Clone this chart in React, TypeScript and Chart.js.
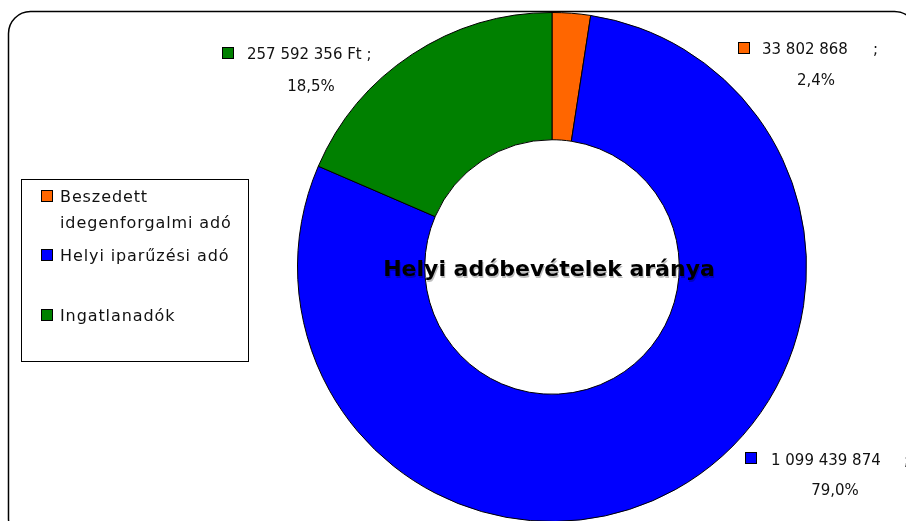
import React, { useEffect, useRef } from "react";
import { Chart, registerables } from "chart.js";

Chart.register(...registerables);

const categories = ["Beszedett idegenforgalmi adó", "Helyi iparűzési adó", "Ingatlanadók"];
const legendLines = [["Beszedett", "idegenforgalmi adó"], ["Helyi iparűzési adó"], ["Ingatlanadók"]];
const values = [33802868, 1099439874, 257592356];
const valueSuffixes = ["", "", " Ft"];
const colors = ["#FF6600", "#0000FF", "#008000"];
const title = "Helyi adóbevételek aránya";

const total = values.reduce((a, b) => a + b, 0);
const fmt = (n: number) => String(n).replace(/\B(?=(\d{3})+(?!\d))/g, " ");
const pct = (n: number) => ((n / total) * 100).toFixed(1).replace(".", ",") + "%";

const FONT = '"DejaVu Sans", sans-serif';

// layout of the data labels (per slice)
const labelLayout = [
  { sq: [738.5, 42.5, 11], tx: 762, ty: 54, semi: 873, px: 816, py: 85 },
  { sq: [745.5, 452.5, 11], tx: 771, ty: 465, semi: 904, px: 835, py: 495 },
  { sq: [222.5, 47.5, 11], tx: 247, ty: 59, semi: -1, px: 311, py: 91 },
];
const legendLayout = [
  { sq: 190, ty: [202, 228] },
  { sq: 249, ty: [261] },
  { sq: 309, ty: [321] },
];

const overlay = {
  id: "overlay",
  beforeDraw(chart: any) {
    const ctx = chart.ctx as CanvasRenderingContext2D;
    ctx.save();
    ctx.fillStyle = "#fff";
    ctx.fillRect(0, 0, chart.width, chart.height);
    // outer rounded frame
    ctx.strokeStyle = "#000";
    ctx.lineWidth = 1.5;
    ctx.beginPath();
    ctx.roundRect(8.5, 11.5, 908, 530, 22);
    ctx.stroke();
    ctx.restore();
  },
  afterDraw(chart: any) {
    const ctx = chart.ctx as CanvasRenderingContext2D;
    ctx.save();
    // title
    ctx.font = `bold 22px ${FONT}`;
    ctx.textAlign = "center";
    ctx.textBaseline = "alphabetic";
    ctx.shadowColor = "rgba(0,0,0,0.25)";
    ctx.shadowOffsetX = 1;
    ctx.shadowOffsetY = 1.5;
    ctx.shadowBlur = 0;
    ctx.fillStyle = "#000";
    ctx.fillText(title, 549, 276);
    ctx.shadowColor = "transparent";

    // data labels
    ctx.font = `15px ${FONT}`;
    values.forEach((v, i) => {
      const L = labelLayout[i];
      const [sx, sy, ss] = L.sq;
      ctx.fillStyle = colors[i];
      ctx.fillRect(sx, sy, ss, ss);
      ctx.strokeStyle = "#000";
      ctx.lineWidth = 1;
      ctx.strokeRect(sx, sy, ss, ss);
      ctx.fillStyle = "#111";
      ctx.textAlign = "left";
      let txt = fmt(v) + valueSuffixes[i];
      if (L.semi < 0) txt += " ;";
      ctx.fillText(txt, L.tx, L.ty);
      if (L.semi >= 0) ctx.fillText(";", L.semi, L.ty);
      ctx.textAlign = "center";
      ctx.fillText(pct(v), L.px, L.py);
    });

    // legend box
    ctx.strokeStyle = "#000";
    ctx.lineWidth = 1;
    ctx.strokeRect(21.5, 179.5, 227, 182);
    ctx.font = `16px ${FONT}`;
    (ctx as any).letterSpacing = "0.9px";
    ctx.textAlign = "left";
    categories.forEach((c, i) => {
      const L = legendLayout[i];
      ctx.fillStyle = colors[i];
      ctx.fillRect(41.5, L.sq + 0.5, 11, 11);
      ctx.strokeStyle = "#000";
      ctx.strokeRect(41.5, L.sq + 0.5, 11, 11);
      ctx.fillStyle = "#111";
      legendLines[i].forEach((line, j) => ctx.fillText(line, 60, L.ty[j]));
    });
    ctx.restore();
  },
};

export default function App() {
  const ref = useRef<HTMLCanvasElement>(null);
  useEffect(() => {
    if (!ref.current) return;
    const chart = new Chart(ref.current, {
      type: "doughnut",
      data: {
        labels: categories,
        datasets: [
          {
            data: values,
            backgroundColor: colors,
            borderColor: "#000",
            borderWidth: 1,
          },
        ],
      },
      options: {
        responsive: false,
        animation: false,
        cutout: "50%",
        layout: { padding: { left: 297, top: 12, right: 99, bottom: 18 } },
        plugins: { legend: { display: false }, tooltip: { enabled: false } },
      },
      plugins: [overlay],
    });
    return () => chart.destroy();
  }, []);
  return (
    <div style={{ position: "fixed", left: 0, top: 0, width: 906, height: 521, overflow: "hidden", background: "#fff" }}>
      <canvas ref={ref} width={906} height={540} style={{ display: "block" }} />
    </div>
  );
}
